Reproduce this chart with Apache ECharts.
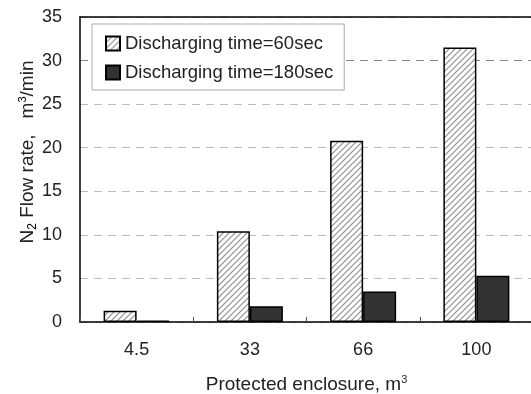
<!DOCTYPE html>
<html><head><meta charset="utf-8">
<script src="https://cdn.jsdelivr.net/npm/echarts@6/dist/echarts.min.js"></script>
<style>html,body{margin:0;padding:0;background:#fff}#c{width:531px;height:394px}</style>
</head><body><div id="c"></div>
<script>
const categories = ['4.5', '33', '66', '100'];
const seriesNames = ['Discharging time=60sec', 'Discharging time=180sec'];
const flow60 = [1.3, 10.4, 20.8, 31.5];
const flow180 = [0.15, 1.8, 3.5, 5.3];
const yTicks = [0, 5, 10, 15, 20, 25, 30, 35];

function hatch() {
  const s = 6, c = document.createElement('canvas');
  c.width = s; c.height = s;
  const g = c.getContext('2d');
  g.fillStyle = '#fff'; g.fillRect(0, 0, s, s);
  g.strokeStyle = '#8f8f8f'; g.lineWidth = 1.2;
  g.beginPath();
  g.moveTo(0, s); g.lineTo(s, 0);
  g.moveTo(-2, 2); g.lineTo(2, -2);
  g.moveTo(s - 2, s + 2); g.lineTo(s + 2, s - 2);
  g.stroke();
  return c;
}
const font = 'Liberation Sans, Arial, sans-serif';
const chart = echarts.init(document.getElementById('c'));
chart.setOption({
  animation: false,
  textStyle: { fontFamily: font },
  grid: { left: 80, top: 17, right: -2, bottom: 72, outerBoundsMode: 'none', containLabel: false },
  legend: {
    left: 92, top: 24, orient: 'vertical',
    backgroundColor: '#fff', borderColor: '#aaa', borderWidth: 1,
    padding: [10, 11, 8, 13], itemGap: 10, itemWidth: 14, itemHeight: 14, itemTextGap: 4,
    icon: 'rect',
    textStyle: { fontSize: 18.5, color: '#222', fontFamily: font },
    data: seriesNames
  },
  xAxis: [{
    type: 'category', data: categories,
    axisLine: { lineStyle: { color: '#000', width: 1.5 } },
    axisTick: { show: true, inside: true, length: 5, lineStyle: { color: '#555' } },
    axisLabel: { fontSize: 18, color: '#222', margin: 19 },
    name: '{a|Protected enclosure, m}{s|3}', nameLocation: 'middle', nameGap: 52,
    nameTextStyle: { rich: { a: { fontSize: 19, color: '#222', fontFamily: font }, s: { fontSize: 11, color: '#222', verticalAlign: 'top', padding: [0, 0, 10, 0], fontFamily: font } } }
  }, {
    type: 'category', data: categories, position: 'top',
    axisLine: { show: true, lineStyle: { color: '#000', width: 1.5 } },
    axisTick: { show: false }, axisLabel: { show: false }, splitLine: { show: false }
  }],
  yAxis: {
    type: 'value', min: 0, max: 35, interval: 5,
    axisLine: { show: true, lineStyle: { color: '#000', width: 1.5 } },
    axisTick: { show: false },
    axisLabel: { fontSize: 18, color: '#222', margin: 18 },
    splitLine: { show: true, lineStyle: { type: [8, 6], width: 1, color: ['#bbb', '#bbb', '#bbb', '#bbb', '#bbb', '#bbb', '#888', '#bbb'] } }
  },
  graphic: [{
    type: 'text', x: 28, y: 152, rotation: Math.PI / 2, origin: [0, 0],
    style: {
      text: '{a|N}{b|2}{a| Flow rate,}{g| }{a|m}{c|3}{a|/min}',
      align: 'center', verticalAlign: 'middle',
      rich: {
        a: { fontSize: 19, fill: '#222', color: '#222', fontFamily: font },
        b: { fontSize: 12, color: '#222', fontFamily: font, verticalAlign: 'bottom', padding: [8, 0, 0, 0] },
        c: { fontSize: 11, color: '#222', fontFamily: font, verticalAlign: 'top', padding: [0, 0, 10, 0] },
        g: { fontSize: 19, width: 16 }
      }
    }
  }],
  series: [
    { name: seriesNames[0], type: 'bar', data: flow60, barWidth: 33, barGap: '0%',
      itemStyle: { color: { image: hatch(), repeat: 'repeat' }, borderColor: '#000', borderWidth: 1.5 } },
    { name: seriesNames[1], type: 'bar', data: flow180, barWidth: 33,
      itemStyle: { color: '#333', borderColor: '#000', borderWidth: 1.5 } }
  ]
});
</script></body></html>
